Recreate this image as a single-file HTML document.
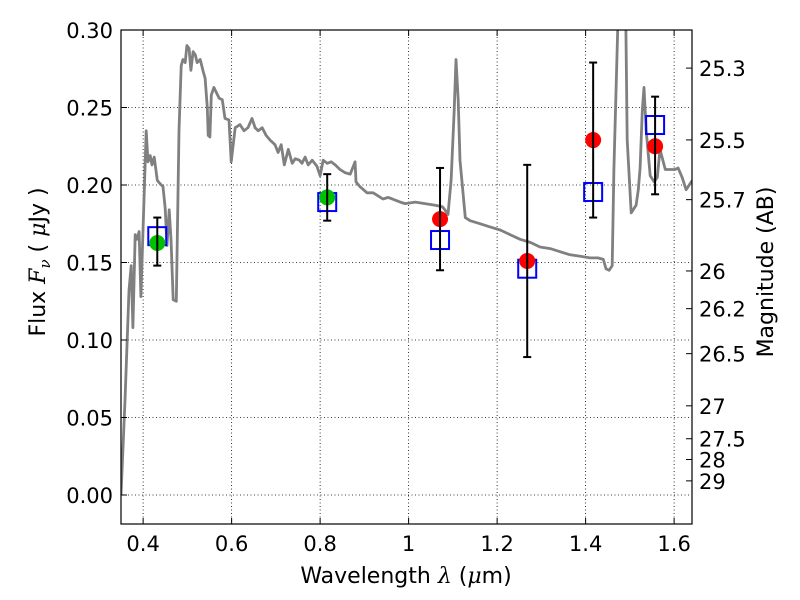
<!DOCTYPE html>
<html><head><meta charset="utf-8">
<style>
html,body{margin:0;padding:0;background:#fff;}
svg{display:block;font-family:"DejaVu Sans","Liberation Sans",sans-serif;}
</style></head>
<body>
<svg id="chart" width="800" height="600" viewBox="0 0 800 600" xmlns="http://www.w3.org/2000/svg">
<rect x="0" y="0" width="800" height="600" fill="#fff"/>
<defs><clipPath id="pc"><rect x="121" y="30" width="571" height="494"/></clipPath></defs>
<g id="grid"></g>
<g id="plot" clip-path="url(#pc)"></g>
<rect x="121" y="30" width="571" height="494" fill="none" stroke="#000" stroke-width="1.2"/>
<g id="axes"></g>
<text x="406" y="583" font-size="22" text-anchor="middle">Wavelength  <tspan font-style="italic" font-family="'DejaVu Serif',serif">λ</tspan> (<tspan font-style="italic" font-family="'DejaVu Serif',serif">μ</tspan>m)</text>
<text transform="translate(45,262) rotate(-90)" font-size="22" text-anchor="middle">Flux  <tspan font-style="italic" font-family="'DejaVu Serif',serif">F</tspan><tspan font-style="italic" font-family="'DejaVu Serif',serif" font-size="15" dy="5">ν</tspan><tspan dy="-5">  (  </tspan><tspan font-style="italic" font-family="'DejaVu Serif',serif">μ</tspan>Jy )</text>
<text transform="translate(773,272) rotate(-90)" font-size="22" text-anchor="middle">Magnitude (AB)</text>
</svg>
<script>
const xTicks=[0.4,0.6,0.8,1.0,1.2,1.4,1.6];
const xTickLabels=["0.4","0.6","0.8","1","1.2","1.4","1.6"];
const yTicks=[0,0.05,0.10,0.15,0.20,0.25,0.30];
const yTickLabels=["0.00","0.05","0.10","0.15","0.20","0.25","0.30"];
const magTicks=[25.3,25.5,25.7,26,26.2,26.5,27,27.5,28,29];
const magLabels=["25.3","25.5","25.7","26","26.2","26.5","27","27.5","28","29"];
const specWl=[0.350,0.359,0.368,0.373,0.377,0.382,0.386,0.391,0.395,0.407,0.411,0.416,0.420,0.425,0.432,0.438,0.445,0.450,0.454,0.459,0.463,0.468,0.475,0.481,0.486,0.490,0.495,0.499,0.504,0.508,0.513,0.518,0.522,0.529,0.536,0.540,0.545,0.547,0.551,0.554,0.560,0.565,0.572,0.579,0.585,0.594,0.599,0.608,0.619,0.628,0.637,0.646,0.653,0.660,0.669,0.678,0.687,0.698,0.705,0.712,0.719,0.728,0.737,0.744,0.753,0.759,0.766,0.773,0.782,0.793,0.800,0.807,0.816,0.825,0.834,0.845,0.856,0.868,0.879,0.881,0.890,0.906,0.920,0.931,0.942,0.954,0.981,0.992,1.015,1.037,1.060,1.076,1.082,1.089,1.096,1.103,1.107,1.112,1.116,1.128,1.139,1.162,1.184,1.207,1.229,1.252,1.275,1.297,1.320,1.342,1.365,1.388,1.410,1.428,1.440,1.446,1.453,1.460,1.464,1.482,1.487,1.494,1.503,1.514,1.519,1.523,1.528,1.532,1.537,1.546,1.555,1.562,1.568,1.580,1.591,1.602,1.609,1.618,1.627,1.641];
const specFlux=[0.000,0.061,0.132,0.148,0.108,0.168,0.165,0.170,0.128,0.235,0.215,0.219,0.213,0.218,0.203,0.201,0.199,0.185,0.161,0.184,0.165,0.126,0.125,0.235,0.277,0.281,0.279,0.290,0.288,0.274,0.286,0.284,0.279,0.281,0.273,0.269,0.250,0.232,0.231,0.258,0.263,0.260,0.256,0.255,0.243,0.242,0.215,0.237,0.239,0.235,0.237,0.243,0.237,0.235,0.237,0.232,0.229,0.226,0.221,0.226,0.213,0.223,0.214,0.217,0.216,0.214,0.218,0.213,0.216,0.212,0.206,0.216,0.214,0.215,0.213,0.210,0.208,0.207,0.215,0.202,0.199,0.195,0.195,0.193,0.191,0.192,0.189,0.188,0.189,0.188,0.187,0.186,0.184,0.181,0.203,0.248,0.281,0.255,0.216,0.179,0.177,0.175,0.173,0.171,0.168,0.165,0.163,0.160,0.159,0.157,0.155,0.154,0.153,0.153,0.152,0.146,0.145,0.148,0.210,0.400,0.400,0.229,0.182,0.187,0.197,0.211,0.248,0.263,0.235,0.206,0.202,0.205,0.223,0.210,0.210,0.210,0.211,0.205,0.197,0.203,0.208];
const bandWl=[0.432,0.816,1.071,1.268,1.417,1.557];
const obsFlux=[0.1626,0.192,0.178,0.151,0.229,0.225];
const obsLow=[0.148,0.177,0.145,0.089,0.179,0.194];
const obsHigh=[0.179,0.207,0.211,0.213,0.279,0.257];
const modelFlux=[0.167,0.189,0.1645,0.146,0.1955,0.2387];
const obsColors=["#00c000","#00c000","#ff0000","#ff0000","#ff0000","#ff0000"];

const NS="http://www.w3.org/2000/svg";
const X0=121,X1=692,Y0=30,Y1=524;
const xMin=0.35,xMax=1.6404,yMin=-0.0187,yMax=0.30;
function sx(v){return X0+(v-xMin)/(xMax-xMin)*(X1-X0);}
function sy(v){return Y1-(v-yMin)/(yMax-yMin)*(Y1-Y0);}
function magToFlux(m){return Math.pow(10,(23.9-m)/2.5);}
function mk(tag,attrs,parent){const e=document.createElementNS(NS,tag);for(const k in attrs)e.setAttribute(k,attrs[k]);parent.appendChild(e);return e;}
const grid=document.getElementById('grid'),plot=document.getElementById('plot'),axes=document.getElementById('axes');

xTicks.forEach((t,i)=>{
  const x=sx(t);
  const g=mk('line',{x1:x,x2:x,y1:Y0,y2:Y1,stroke:'#000','stroke-width':0.8,'stroke-dasharray':'1,2.5'},grid);
  
  
  mk('line',{x1:x,x2:x,y1:Y1,y2:Y1-6,stroke:'#000','stroke-width':1},axes);
  mk('line',{x1:x,x2:x,y1:Y0,y2:Y0+6,stroke:'#000','stroke-width':1},axes);
  const tx=mk('text',{x:x,y:Y1+27,'font-size':21,'text-anchor':'middle'},axes);
  tx.textContent=xTickLabels[i];
  
  
});
yTicks.forEach((t,i)=>{
  const y=sy(t);
  const g=mk('line',{x1:X0,x2:X1,y1:y,y2:y,stroke:'#000','stroke-width':0.8,'stroke-dasharray':'1,2.5'},grid);
  
  
  mk('line',{x1:X0,x2:X0+6,y1:y,y2:y,stroke:'#000','stroke-width':1},axes);
  const tx=mk('text',{x:X0-8,y:y+8,'font-size':21,'text-anchor':'end'},axes);
  tx.textContent=yTickLabels[i];
  
  
});
magTicks.forEach((m,i)=>{
  const y=sy(magToFlux(m));
  mk('line',{x1:X1,x2:X1-6,y1:y,y2:y,stroke:'#000','stroke-width':1},axes);
  const tx=mk('text',{x:X1+7,y:y+8,'font-size':21,'text-anchor':'start'},axes);
  tx.textContent=magLabels[i];
  
  
});

let d='';
specWl.forEach((w,i)=>{d+=(i?'L':'M')+sx(w).toFixed(1)+','+sy(specFlux[i]).toFixed(1);});
const sp=mk('path',{d:d,fill:'none',stroke:'#808080','stroke-width':2.8,'stroke-linejoin':'round'},plot);



bandWl.forEach((w,i)=>{
  const x=sx(w);
  const sq=mk('rect',{x:x-9,y:sy(modelFlux[i])-9,width:18,height:18,fill:'none',stroke:'#0000ff','stroke-width':2},plot);
  
  
  const c=mk('circle',{cx:x,cy:sy(obsFlux[i]),r:8,fill:obsColors[i]},plot);
  
  
  const eb=mk('g',{stroke:'#000','stroke-width':2},plot);
  
  
  const yl=sy(obsLow[i]),yh=sy(obsHigh[i]);
  mk('line',{x1:x,x2:x,y1:yl,y2:yh},eb);
  mk('line',{x1:x-4,x2:x+4,y1:yl,y2:yl},eb);
  mk('line',{x1:x-4,x2:x+4,y1:yh,y2:yh},eb);
});
</script>
</body></html>
